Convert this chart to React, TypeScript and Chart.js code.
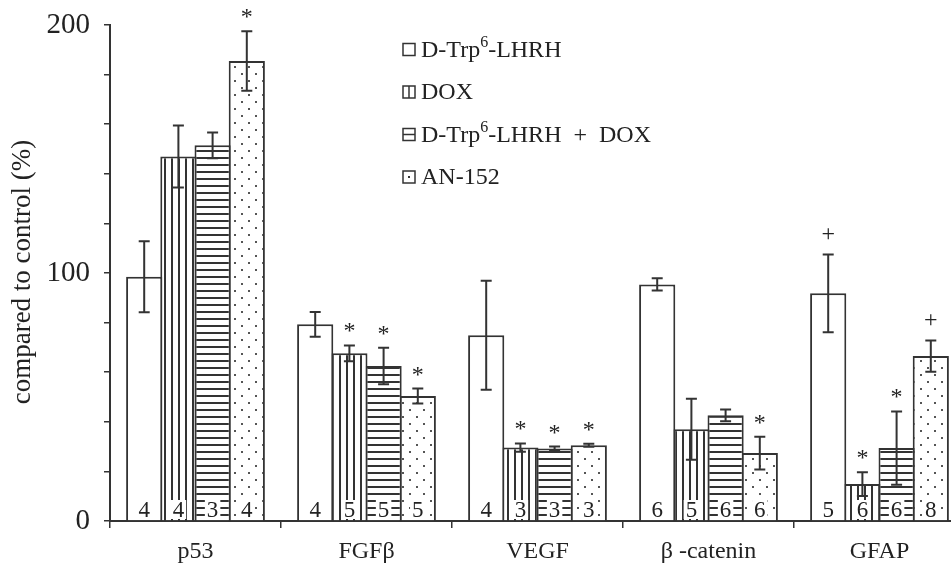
import React, { useEffect, useRef } from "react";
import { Chart, registerables } from "chart.js";

Chart.register(...registerables);

const FAMILY = "'Liberation Serif', 'Times New Roman', serif";

const categories = ["p53", "FGFβ", "VEGF", "β -catenin", "GFAP"];
const seriesNames = ["D-Trp6-LHRH", "DOX", "D-Trp6-LHRH + DOX", "AN-152"];

const dTrp = [98.5, 79.3, 74.9, 95.4, 91.8];
const dox = [147, 67.6, 29.6, 37, 14.9];
const combo = [151.5, 62.5, 29.2, 42.6, 29.4];
const an152 = [185.5, 50.4, 30.5, 27.4, 66.5];

const dTrpErr = [14.3, 5, 22, 2.5, 15.7];
const doxErr = [12.5, 3.2, 1.7, 12.3, 4.8];
const comboErr = [5.2, 7.4, 0.8, 2.4, 14.8];
const an152Err = [12, 3, 0.6, 6.6, 6.3];

const dTrpN = [4, 4, 4, 6, 5];
const doxN = [4, 5, 3, 5, 6];
const comboN = [3, 5, 3, 6, 6];
const an152N = [4, 5, 3, 6, 8];

const dTrpMark = ["", "", "", "", "+"];
const doxMark = ["", "*", "*", "", "*"];
const comboMark = ["", "*", "*", "", "*"];
const an152Mark = ["*", "*", "*", "*", "+"];

const yLabelTicks = [0, 100, 200];

const errList = [dTrpErr, doxErr, comboErr, an152Err];
const nList = [dTrpN, doxN, comboN, an152N];
const markList = [dTrpMark, doxMark, comboMark, an152Mark];

const LINE = "#333";
const TEXT = "#222";

function makeTile(kind: string): HTMLCanvasElement {
  const c = document.createElement("canvas");
  const ctx = c.getContext("2d") as CanvasRenderingContext2D;
  if (kind === "v") {
    c.width = 7; c.height = 7;
    ctx.fillStyle = "#fff"; ctx.fillRect(0, 0, 7, 7);
    ctx.fillStyle = LINE; ctx.fillRect(3, 0, 2, 7);
  } else if (kind === "h") {
    c.width = 7; c.height = 7;
    ctx.fillStyle = "#fff"; ctx.fillRect(0, 0, 7, 7);
    ctx.fillStyle = LINE; ctx.fillRect(0, 3, 7, 2);
  } else {
    c.width = 14; c.height = 14;
    ctx.fillStyle = "#fff"; ctx.fillRect(0, 0, 14, 14);
    ctx.fillStyle = "#555";
    ctx.fillRect(3, 3, 2, 2);
    ctx.fillRect(10, 10, 2, 2);
  }
  return c;
}

function drawLegendText(ctx: CanvasRenderingContext2D, name: string, x: number, y: number) {
  ctx.textAlign = "left";
  ctx.textBaseline = "alphabetic";
  ctx.fillStyle = TEXT;
  if (name.startsWith("D-Trp6")) {
    ctx.font = `24px ${FAMILY}`;
    const a = "D-Trp";
    ctx.fillText(a, x, y);
    let cx = x + ctx.measureText(a).width;
    ctx.font = `16px ${FAMILY}`;
    ctx.fillText("6", cx, y - 10);
    cx += ctx.measureText("6").width;
    ctx.font = `24px ${FAMILY}`;
    const rest = name.slice(6).replace(" + ", "  +  ");
    ctx.fillText(rest, cx, y);
  } else {
    ctx.font = `24px ${FAMILY}`;
    ctx.fillText(name, x, y);
  }
}

const overlayPlugin = {
  id: "overlay",
  afterDatasetsDraw(chart: any) {
    const ctx: CanvasRenderingContext2D = chart.ctx;
    const ys = chart.scales.y;
    chart.data.datasets.forEach((ds: any, di: number) => {
      const meta = chart.getDatasetMeta(di);
      const errs = errList[di];
      const ns = nList[di];
      const marks = markList[di];
      meta.data.forEach((el: any, i: number) => {
        const v = ds.data[i];
        const e = errs[i];
        const x = el.x;
        const yt = ys.getPixelForValue(v + e);
        const yb = ys.getPixelForValue(v - e);
        ctx.save();
        ctx.strokeStyle = LINE;
        ctx.lineWidth = 2;
        ctx.beginPath();
        ctx.moveTo(x, yt); ctx.lineTo(x, yb);
        ctx.moveTo(x - 5.5, yt); ctx.lineTo(x + 5.5, yt);
        ctx.moveTo(x - 5.5, yb); ctx.lineTo(x + 5.5, yb);
        ctx.stroke();

        ctx.font = `23px ${FAMILY}`;
        const t = String(ns[i]);
        const w = ctx.measureText(t).width;
        const base = ys.getPixelForValue(0) - 4;
        if (di > 0) {
          ctx.fillStyle = "#fff";
          ctx.fillRect(x - w / 2 - 2, base - 17, w + 4, 19);
        }
        ctx.fillStyle = TEXT;
        ctx.textAlign = "center";
        ctx.textBaseline = "alphabetic";
        ctx.fillText(t, x, base);

        const m = marks[i];
        if (m) {
          ctx.font = `24px ${FAMILY}`;
          if (m === "+") {
            const c = yt - 21;
            ctx.fillText(m, x, c + 8);
          } else {
            const c = yt - 20;
            ctx.fillText(m, x, c + 13);
          }
        }
        ctx.restore();
      });
    });
  },
  afterDraw(chart: any) {
    const ctx: CanvasRenderingContext2D = chart.ctx;
    ctx.save();
    ctx.translate(23, 272);
    ctx.rotate(-Math.PI / 2);
    ctx.font = `27px ${FAMILY}`;
    ctx.fillStyle = TEXT;
    ctx.textAlign = "center";
    ctx.textBaseline = "middle";
    ctx.fillText("compared to control (%)", 0, 0);
    ctx.restore();

    ctx.save();
    const lx = 403;
    const rows = [56.5, 99, 141.5, 184];
    rows.forEach((by, k) => {
      const bx = lx, bt = by - 13, bs = 12;
      ctx.strokeStyle = LINE;
      ctx.lineWidth = 1.5;
      ctx.fillStyle = "#fff";
      ctx.fillRect(bx, bt, bs, bs);
      ctx.strokeRect(bx, bt, bs, bs);
      ctx.beginPath();
      if (k === 1) {
        ctx.moveTo(bx + bs / 2, bt); ctx.lineTo(bx + bs / 2, bt + bs);
      } else if (k === 2) {
        ctx.moveTo(bx, bt + bs / 2); ctx.lineTo(bx + bs, bt + bs / 2);
      }
      ctx.stroke();
      if (k === 3) {
        ctx.fillStyle = LINE;
        ctx.fillRect(bx + 5, bt + 5, 2, 2);
      }
      drawLegendText(ctx, seriesNames[k], lx + 18, by);
    });
    ctx.restore();
  },
};

export default function App() {
  const ref = useRef<HTMLCanvasElement | null>(null);

  useEffect(() => {
    const canvas = ref.current;
    if (!canvas) return;
    const ctx = canvas.getContext("2d") as CanvasRenderingContext2D;
    const pv = ctx.createPattern(makeTile("v"), "repeat");
    const ph = ctx.createPattern(makeTile("h"), "repeat");
    const pd = ctx.createPattern(makeTile("d"), "repeat");

    const common = {
      borderColor: LINE,
      borderWidth: { top: 2, left: 2, right: 2, bottom: 0 },
      borderSkipped: "start",
      barPercentage: 1.058,
      categoryPercentage: 0.8,
    };

    const chart = new Chart(canvas, {
      type: "bar",
      data: {
        labels: categories,
        datasets: [
          { label: seriesNames[0], data: dTrp, backgroundColor: "#fff", ...common },
          { label: seriesNames[1], data: dox, backgroundColor: pv as any, ...common },
          { label: seriesNames[2], data: combo, backgroundColor: ph as any, ...common },
          { label: seriesNames[3], data: an152, backgroundColor: pd as any, ...common },
        ] as any,
      },
      options: {
        animation: false,
        responsive: false,
        maintainAspectRatio: false,
        devicePixelRatio: 1,
        layout: { padding: { left: 0, top: 25, right: 25, bottom: 0 } },
        plugins: {
          legend: { display: false },
          tooltip: { enabled: false },
        },
        scales: {
          x: {
            type: "category",
            offset: true,
            grid: {
              display: true,
              drawOnChartArea: false,
              drawTicks: true,
              tickLength: 7,
              color: LINE,
              lineWidth: 1.5,
              offset: true,
            },
            border: { display: true, color: LINE, width: 2 },
            ticks: {
              font: { family: FAMILY, size: 24 },
              color: TEXT,
              padding: 9,
              maxRotation: 0,
              autoSkip: false,
            },
            afterFit: (s: any) => {
              s.height = 42;
              s.paddingLeft = 0;
              s.paddingRight = 0;
            },
          },
          y: {
            min: 0,
            max: 200,
            ticks: {
              stepSize: 20,
              callback: (v: any) => (yLabelTicks.includes(Number(v)) ? String(v) : ""),
              font: { family: FAMILY, size: 29 },
              color: TEXT,
              padding: 14,
            },
            grid: {
              drawOnChartArea: false,
              drawTicks: true,
              tickLength: 6,
              color: LINE,
              lineWidth: 1.5,
            },
            border: { display: true, color: LINE, width: 2 },
            afterFit: (s: any) => {
              s.width = 110;
              s.paddingTop = 0;
              s.paddingBottom = 0;
            },
          },
        },
      } as any,
      plugins: [overlayPlugin],
    });
    return () => chart.destroy();
  }, []);

  return (
    <div
      style={{
        position: "fixed",
        left: 0,
        top: 0,
        width: 951,
        height: 563,
        overflow: "hidden",
        background: "#fff",
      }}
    >
      <canvas ref={ref} width={990} height={563} style={{ display: "block", width: 990, height: 563 }} />
    </div>
  );
}
